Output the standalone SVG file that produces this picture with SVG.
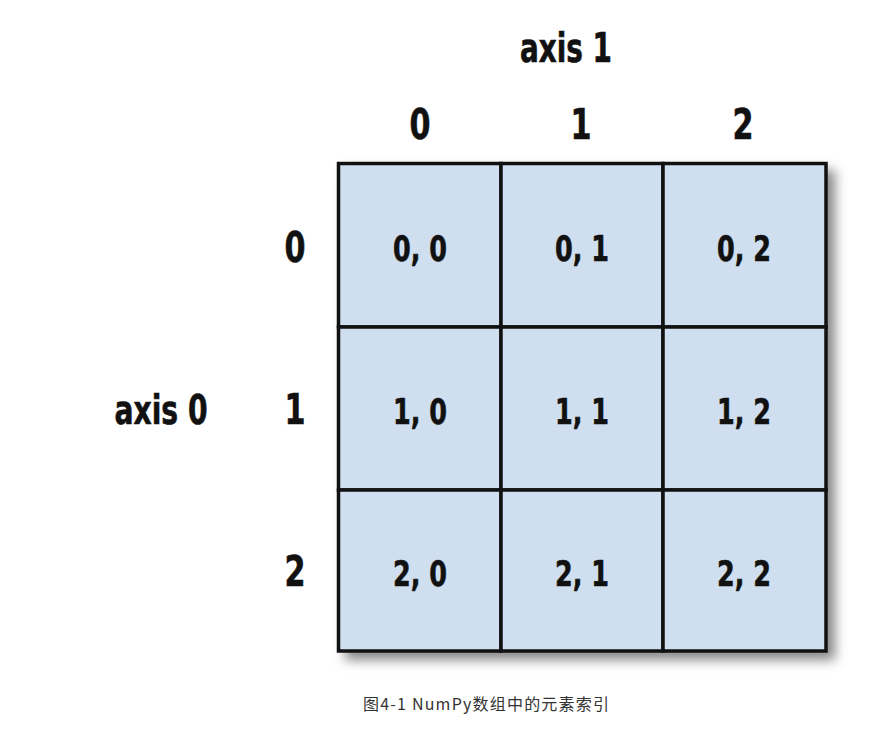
<svg xmlns="http://www.w3.org/2000/svg" width="872" height="736" viewBox="0 0 872 736">
<style>
.lbl{font-family:"DejaVu Sans Condensed","Liberation Sans",sans-serif;font-weight:bold;fill:#111;text-anchor:middle;stroke:#111;stroke-width:0.6}
.ax{font-size:40px}
.hd{font-size:42px}
.cl{font-size:36px}
.cell{fill:#cfdff0;stroke:#111;stroke-width:3.5}
.cap{font-family:"Noto Sans CJK SC","Noto Sans",sans-serif;font-size:16px;fill:#333}
</style>
<defs>
<filter id="sh" x="-10%" y="-10%" width="130%" height="130%">
<feGaussianBlur stdDeviation="6"/>
</filter>
</defs>
<rect width="872" height="736" fill="#ffffff"/>
<rect x="345" y="170" width="490" height="490" fill="#888" filter="url(#sh)"/>
<g id="grid">
<rect class="cell" x="338.5" y="163.5" width="162.5" height="163.5"/>
<rect class="cell" x="501" y="163.5" width="162" height="163.5"/>
<rect class="cell" x="663" y="163.5" width="163" height="163.5"/>
<rect class="cell" x="338.5" y="327" width="162.5" height="163"/>
<rect class="cell" x="501" y="327" width="162" height="163"/>
<rect class="cell" x="663" y="327" width="163" height="163"/>
<rect class="cell" x="338.5" y="490" width="162.5" height="161"/>
<rect class="cell" x="501" y="490" width="162" height="161"/>
<rect class="cell" x="663" y="490" width="163" height="161"/>
</g>
<g id="axis1"><text class="lbl ax" x="566" y="62" textLength="92" lengthAdjust="spacingAndGlyphs">axis 1</text></g>
<g id="axis0"><text class="lbl ax" x="161" y="424" textLength="93" lengthAdjust="spacingAndGlyphs">axis 0</text></g>
<g id="colheads">
<text class="lbl hd" x="420" y="139" textLength="21" lengthAdjust="spacingAndGlyphs">0</text>
<text class="lbl hd" x="581" y="139" textLength="21" lengthAdjust="spacingAndGlyphs">1</text>
<text class="lbl hd" x="743" y="139" textLength="21" lengthAdjust="spacingAndGlyphs">2</text>
</g>
<g id="rowheads">
<text class="lbl hd" x="295" y="262" textLength="21" lengthAdjust="spacingAndGlyphs">0</text>
<text class="lbl hd" x="295" y="424" textLength="21" lengthAdjust="spacingAndGlyphs">1</text>
<text class="lbl hd" x="295" y="586" textLength="21" lengthAdjust="spacingAndGlyphs">2</text>
</g>
<g id="cells">
<text class="lbl cl" x="420" y="261" textLength="54" lengthAdjust="spacingAndGlyphs">0, 0</text>
<text class="lbl cl" x="582" y="261" textLength="54" lengthAdjust="spacingAndGlyphs">0, 1</text>
<text class="lbl cl" x="744" y="261" textLength="54" lengthAdjust="spacingAndGlyphs">0, 2</text>
<text class="lbl cl" x="420" y="424" textLength="54" lengthAdjust="spacingAndGlyphs">1, 0</text>
<text class="lbl cl" x="582" y="424" textLength="54" lengthAdjust="spacingAndGlyphs">1, 1</text>
<text class="lbl cl" x="744" y="424" textLength="54" lengthAdjust="spacingAndGlyphs">1, 2</text>
<text class="lbl cl" x="420" y="586" textLength="54" lengthAdjust="spacingAndGlyphs">2, 0</text>
<text class="lbl cl" x="582" y="586" textLength="54" lengthAdjust="spacingAndGlyphs">2, 1</text>
<text class="lbl cl" x="744" y="586" textLength="54" lengthAdjust="spacingAndGlyphs">2, 2</text>
</g>
<g id="caption"><text class="cap" x="363" y="710" textLength="246" lengthAdjust="spacing">图4-1 NumPy数组中的元素索引</text></g>
</svg>
